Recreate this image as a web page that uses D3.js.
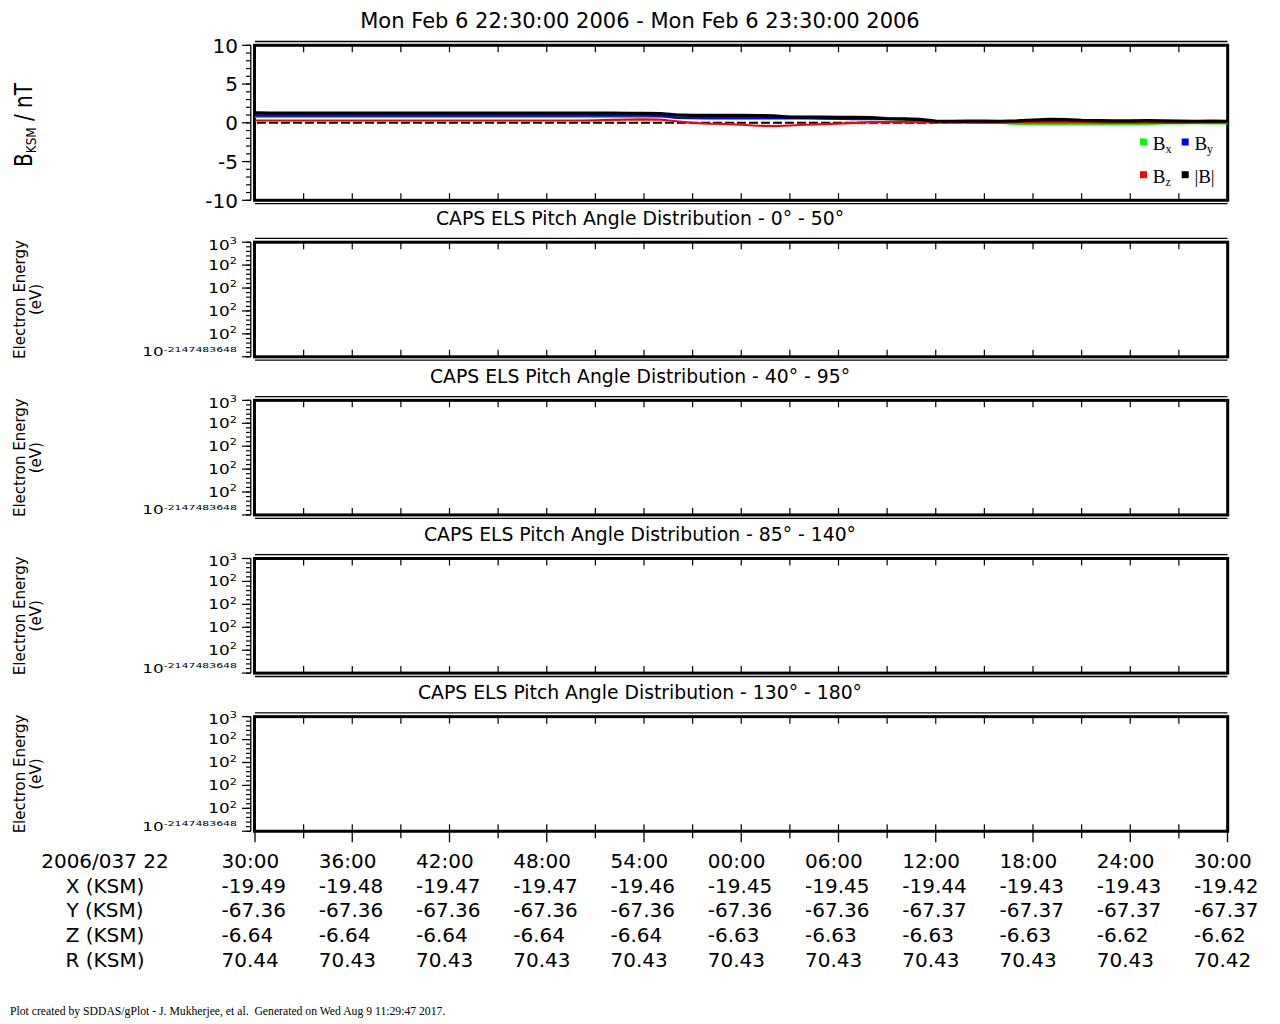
<!DOCTYPE html>
<html>
<head>
<meta charset="utf-8">
<script src="https://cdn.jsdelivr.net/npm/d3@7"></script>
<style>
body { margin: 0; background: #fff; }
svg { display: block; }
text { font-family: "DejaVu Sans", sans-serif; fill: #000; }
</style>
</head>
<body>
<svg id="chart" width="1280" height="1024"></svg>
<script>
// minutes after 22:30
const sampleMinutes = d3.range(0, 61);

const bMag = [1.27, 1.26, 1.25, 1.25, 1.26, 1.25, 1.25, 1.25, 1.25, 1.25,
    1.25, 1.25, 1.25, 1.25, 1.25, 1.25, 1.25, 1.25, 1.25, 1.24,
    1.24, 1.24, 1.24, 1.23, 1.22, 1.18, 1.02, 0.97, 0.96, 0.95,
    0.95, 0.94, 0.90, 0.74, 0.72, 0.72, 0.70, 0.69, 0.66, 0.55,
    0.50, 0.45, 0.22, 0.20, 0.21, 0.22, 0.20, 0.24, 0.35, 0.45,
    0.42, 0.32, 0.28, 0.26, 0.25, 0.27, 0.25, 0.22, 0.20, 0.21,
    0.20];
const bx = [0.78, 0.78, 0.78, 0.78, 0.78, 0.78, 0.78, 0.78, 0.78, 0.78,
    0.78, 0.78, 0.78, 0.78, 0.78, 0.78, 0.78, 0.78, 0.78, 0.78,
    0.78, 0.78, 0.78, 0.78, 0.78, 0.77, 0.74, 0.74, 0.74, 0.74,
    0.74, 0.74, 0.74, 0.74, 0.72, 0.58, 0.55, 0.55, 0.54, 0.52,
    0.42, 0.30, 0.08, 0.05, 0.05, 0.04, 0.02, -0.12, -0.15, -0.15,
    -0.15, -0.16, -0.15, -0.15, -0.14, -0.15, -0.06, -0.05, -0.04, -0.05,
    -0.05];
const by = [0.95, 0.95, 0.95, 0.95, 0.95, 0.95, 0.95, 0.95, 0.95, 0.95,
    0.95, 0.95, 0.95, 0.95, 0.95, 0.95, 0.95, 0.95, 0.95, 0.95,
    0.95, 0.95, 0.95, 0.94, 0.93, 0.90, 0.65, 0.62, 0.60, 0.60,
    0.60, 0.60, 0.60, 0.58, 0.58, 0.56, 0.52, 0.50, 0.50, 0.50,
    0.48, 0.40, 0.15, 0.12, 0.12, 0.10, 0.10, 0.12, 0.15, 0.18,
    0.15, 0.12, 0.10, 0.10, 0.10, 0.10, 0.08, 0.08, 0.10, 0.10,
    0.10];
const bz = [0.30, 0.30, 0.30, 0.30, 0.30, 0.30, 0.30, 0.30, 0.30, 0.30,
    0.30, 0.30, 0.30, 0.30, 0.30, 0.30, 0.30, 0.30, 0.30, 0.30,
    0.30, 0.32, 0.38, 0.42, 0.45, 0.42, 0.20, 0.00, -0.12, -0.15,
    -0.25, -0.38, -0.43, -0.35, -0.25, -0.18, -0.10, 0.00, 0.08, 0.10,
    0.10, 0.10, 0.05, 0.05, 0.04, 0.03, 0.03, 0.04, 0.05, 0.05,
    0.05, 0.04, 0.04, 0.03, 0.03, 0.04, 0.05, 0.05, 0.04, 0.04,
    0.04];

const magTicks = [-10, -5, 0, 5, 10];
const specTickBase = ["10", "10", "10", "10", "10", "10"];
const specTickExp = ["-2147483648", "2", "2", "2", "2", "3"];
const specTitles = ["0° - 50°", "40° - 95°", "85° - 140°", "130° - 180°"];

const legendSubs = ["x", "y", "z", null];
const legendColors = ["#00ff00", "#0000ff", "#ff0000", "#000000"];

const timeLabels = ["30:00", "36:00", "42:00", "48:00", "54:00", "00:00", "06:00", "12:00", "18:00", "24:00", "30:00"];
const xKsm = [-19.49, -19.48, -19.47, -19.47, -19.46, -19.45, -19.45, -19.44, -19.43, -19.43, -19.42];
const yKsm = [-67.36, -67.36, -67.36, -67.36, -67.36, -67.36, -67.36, -67.37, -67.37, -67.37, -67.37];
const zKsm = [-6.64, -6.64, -6.64, -6.64, -6.64, -6.63, -6.63, -6.63, -6.63, -6.62, -6.62];
const rKsm = [70.44, 70.43, 70.43, 70.43, 70.43, 70.43, 70.43, 70.43, 70.43, 70.43, 70.42];
const rowLabels = ["2006/037 22", "X (KSM)", "Y (KSM)", "Z (KSM)", "R (KSM)"];

const svg = d3.select("#chart");

const xLeft = 255, xRight = 1227.5;
const t0 = new Date(2006, 1, 6, 22, 30), t1 = new Date(2006, 1, 6, 23, 30);
const x = d3.scaleTime().domain([t0, t1]).range([xLeft, xRight]);
const minorTimes = x.ticks(d3.timeMinute.every(3));
const majorTimes = x.ticks(d3.timeMinute.every(6));

function drawFrame(top, bottom, last) {
    const g = svg.append("g");
    g.append("rect")
        .attr("x", 254.5).attr("y", top)
        .attr("width", 1227.7 - 254.5).attr("height", bottom - top)
        .attr("fill", "none").attr("stroke", "#000").attr("stroke-width", 3);

    // outer axis lines
    g.append("line").attr("x1", 250.8).attr("x2", 250.8).attr("y1", top).attr("y2", bottom)
        .attr("stroke", "#000").attr("stroke-width", 1.3);
    g.append("line").attr("x1", xLeft).attr("x2", xRight).attr("y1", top - 3.8).attr("y2", top - 3.8)
        .attr("stroke", "#000").attr("stroke-width", 1.3);
    if (!last)
        g.append("line").attr("x1", xLeft).attr("x2", xRight).attr("y1", bottom + 3.4).attr("y2", bottom + 3.4)
            .attr("stroke", "#000").attr("stroke-width", 1.3);

    // inner time ticks
    g.selectAll("line.tt").data(minorTimes).enter().append("line")
        .attr("class", "tt")
        .attr("x1", d => x(d)).attr("x2", d => x(d))
        .attr("y1", top).attr("y2", top + 7)
        .attr("stroke", "#000").attr("stroke-width", 1.2);
    g.selectAll("line.tb").data(minorTimes).enter().append("line")
        .attr("class", "tb")
        .attr("x1", d => x(d)).attr("x2", d => x(d))
        .attr("y1", bottom).attr("y2", bottom - 7)
        .attr("stroke", "#000").attr("stroke-width", 1.2);

    if (last) {
        g.selectAll("line.ta").data(minorTimes).enter().append("line")
            .attr("class", "ta")
            .attr("x1", d => x(d)).attr("x2", d => x(d))
            .attr("y1", bottom + 1)
            .attr("y2", (d, i) => bottom + (i % 2 == 0 ? 11 : 7))
            .attr("stroke", "#000").attr("stroke-width", 1.3);
    }
    return g;
}

function yTicks(g, scale, majors, minors) {
    g.selectAll("line.ym").data(minors).enter().append("line")
        .attr("x1", 250.8).attr("x2", 246)
        .attr("y1", d => scale(d)).attr("y2", d => scale(d))
        .attr("stroke", "#000").attr("stroke-width", 1.2);
    g.selectAll("line.yM").data(majors).enter().append("line")
        .attr("x1", 250.8).attr("x2", 242)
        .attr("y1", d => scale(d)).attr("y2", d => scale(d))
        .attr("stroke", "#000").attr("stroke-width", 1.2);
}

// title
svg.append("text")
    .attr("x", 640).attr("y", 28)
    .attr("text-anchor", "middle")
    .style("font-size", "21px")
    .text("Mon Feb 6 22:30:00 2006 - Mon Feb 6 23:30:00 2006");

// magnetometer panel
const magTop = 45.3, magBottom = 200.3;
const y = d3.scaleLinear().domain([-10, 10]).range([magBottom, magTop]);
const magG = drawFrame(magTop, magBottom, false);
yTicks(magG, y, magTicks, d3.range(-10, 11));

magG.selectAll("text.yl").data(magTicks).enter().append("text")
    .attr("x", 238).attr("y", d => y(d))
    .attr("dy", "0.36em")
    .attr("text-anchor", "end")
    .style("font-size", "20px")
    .text(d => d);

const ylab = svg.append("text")
    .attr("transform", "translate(32,125) rotate(-90) scale(1,1.2)")
    .attr("text-anchor", "middle")
    .style("font-size", "20px");
ylab.append("tspan").text("B");
ylab.append("tspan").attr("dy", 3).style("font-size", "12px").text("KSM");
ylab.append("tspan").attr("dy", -3).text(" / nT");

const times = sampleMinutes.map(m => d3.timeMinute.offset(t0, m));
const line = d3.line().x((d, i) => x(times[i])).y(d => y(d));

const traces = [
    { v: bx, c: "#00ff00", w: 2.5 },
    { v: by, c: "#0000ff", w: 2.5 },
    { v: bz, c: "#ff0000", w: 2.2 },
    { v: bMag, c: "#000000", w: 3.2 }
];

svg.append("line")
    .attr("x1", xLeft + 2).attr("x2", xRight)
    .attr("y1", y(0)).attr("y2", y(0))
    .attr("stroke", "#000").attr("stroke-width", 2)
    .attr("stroke-dasharray", "9,3");

svg.selectAll("path.trace").data(traces).enter().append("path")
    .attr("class", "trace")
    .attr("d", d => line(d.v))
    .attr("fill", "none")
    .attr("stroke", d => d.c)
    .attr("stroke-width", d => d.w);

// legend
const legend = svg.append("g");
legendColors.forEach((c, i) => {
    const col = i % 2, row = Math.floor(i / 2);
    const lx = 1140 + col * 41.7, ly = 138.5 + row * 32.7;
    legend.append("rect")
        .attr("x", lx).attr("y", ly).attr("width", 7).attr("height", 7)
        .attr("fill", c);
    const t = legend.append("text")
        .attr("x", lx + 12.7).attr("y", ly + 11.5)
        .style("font-family", "'Liberation Serif', serif")
        .style("font-size", "19px");
    if (legendSubs[i] != null) {
        t.append("tspan").text("B");
        t.append("tspan").attr("dy", 3).style("font-size", "12px").text(legendSubs[i]);
    } else {
        t.text("|B|");
    }
});

// pitch angle panels
const specTop0 = 242.2, specH = 114.6, specStep = 158.15;
specTitles.forEach((title, p) => {
    const top = specTop0 + p * specStep, bottom = top + specH;
    const last = p == specTitles.length - 1;
    const g = drawFrame(top, bottom, last);
    const ys = d3.scaleLinear().domain([0, 5]).range([bottom, top]);
    yTicks(g, ys, d3.range(0, 6), d3.range(0, 5.01, 0.2));

    svg.append("text")
        .attr("x", 640).attr("y", top - 17.7)
        .attr("text-anchor", "middle")
        .style("font-size", "18.8px")
        .text("CAPS ELS Pitch Angle Distribution - " + title);

    specTickBase.forEach((b, i) => {
        const small = i == 0;
        const cy = Math.max(top + 2.5, Math.min(bottom - 4.5, ys(i)));
        const t = g.append("text")
            .attr("transform", "translate(237," + (cy + (small ? 4 : 4.8)) + ") scale(" + (small ? 1.4 : 1.25) + ",1)")
            .attr("text-anchor", "end")
            .style("font-size", small ? "12px" : "13.5px");
        t.append("tspan").text(b);
        t.append("tspan").attr("dy", small ? -4.5 : -5.5)
            .style("font-size", small ? "7.8px" : "9px")
            .text(specTickExp[i]);
    });

    const mid = (top + bottom) / 2;
    svg.append("text")
        .attr("transform", "translate(24.5," + mid + ") rotate(-90)")
        .attr("text-anchor", "middle")
        .style("font-size", "15px")
        .text("Electron Energy");
    svg.append("text")
        .attr("transform", "translate(41.3," + mid + ") rotate(-90)")
        .attr("text-anchor", "middle")
        .style("font-size", "15px")
        .text("(eV)");
});

// ephemeris table
const rows = [
    timeLabels,
    xKsm.map(v => v.toFixed(2)),
    yKsm.map(v => v.toFixed(2)),
    zKsm.map(v => v.toFixed(2)),
    rKsm.map(v => v.toFixed(2))
];
const table = svg.append("g").style("font-size", "20px");
rows.forEach((vals, r) => {
    const by0 = 868 + r * 24.7;
    table.append("text")
        .attr("x", 105).attr("y", by0)
        .attr("text-anchor", "middle")
        .text(rowLabels[r]);
    table.selectAll("text.c" + r).data(vals).enter().append("text")
        .attr("class", "c" + r)
        .attr("x", (d, i) => x(majorTimes[i]) - 33.5)
        .attr("y", by0)
        .text(d => d);
});

svg.append("text")
    .attr("x", 10).attr("y", 1015)
    .style("font-family", "'Liberation Serif', serif")
    .style("font-size", "11.7px")
    .attr("xml:space", "preserve")
    .text("Plot created by SDDAS/gPlot - J. Mukherjee, et al.  Generated on Wed Aug 9 11:29:47 2017.");
</script>
</body>
</html>
